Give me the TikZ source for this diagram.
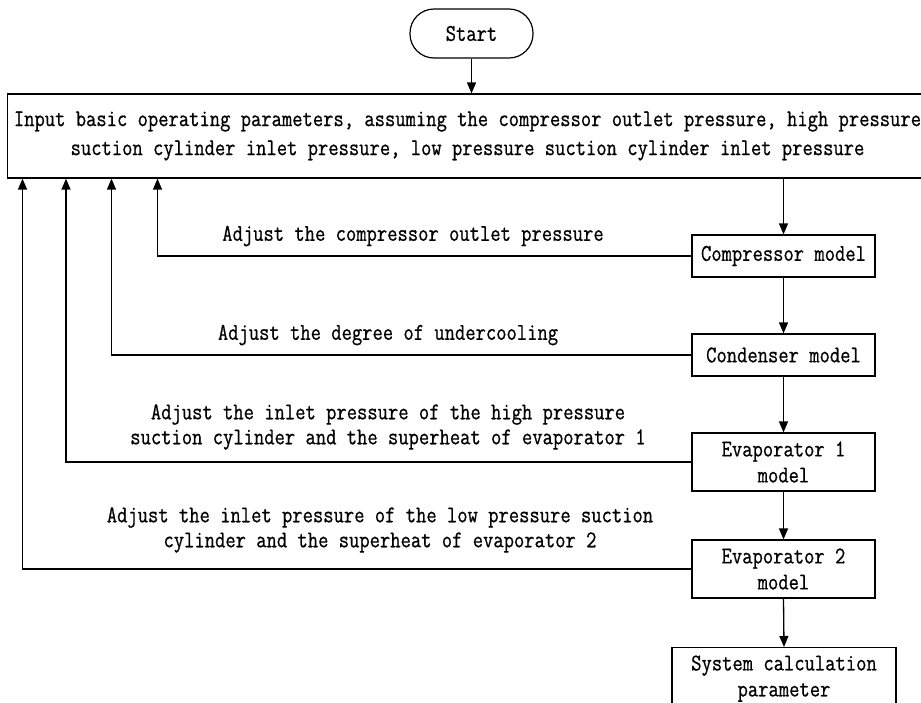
\documentclass[tikz,border=0pt]{standalone}
\usepackage{fontspec}
\setmainfont{Latin Modern Mono}[FakeStretch=0.834,FakeBold=0.7]
\usetikzlibrary{arrows.meta,calc}
\begin{document}
\begin{tikzpicture}[x=1pt,y=-1pt,
  box/.style={draw, line width=1.2pt, inner sep=0pt, align=center,
    font=\fontsize{24}{26}\selectfont},
  lbl/.style={inner sep=0pt, align=center, font=\fontsize{24}{25}\selectfont},
  arr/.style={line width=1.3pt, -{Triangle[length=11pt,width=9pt]}}]
\useasboundingbox (0,0) rectangle (921,702);
\clip (0,0) rectangle (921,702);
\fill[white] (0,0) rectangle (921,702);
\node[box, rounded corners=24pt, minimum width=123pt, minimum height=49pt] (start) at (471.5,33.5) {Start};
\node[box, minimum width=920pt, minimum height=84pt, font=\fontsize{24}{29}\selectfont] (input) at (467.5,136)
 {Input basic operating parameters, assuming the compressor outlet pressure, high pressure\\suction cylinder inlet pressure, low pressure suction cylinder inlet pressure};
\node[box, minimum width=183pt, minimum height=42pt] (comp) at (783.5,256) {Compressor model};
\node[box, minimum width=183pt, minimum height=42pt] (cond) at (783.5,355) {Condenser model};
\node[box, minimum width=183pt, minimum height=58pt] (ev1) at (783.5,462) {Evaporator 1\\model};
\node[box, minimum width=183pt, minimum height=58pt] (ev2) at (783.5,569) {Evaporator 2\\model};
\node[box, minimum width=224pt, minimum height=62pt, anchor=north] (sys) at (784,647) {System calculation\\parameter};
\coordinate (xb) at (783.5,0);
\coordinate (c1) at (157.5,0);
\coordinate (c2) at (111.5,0);
\coordinate (c3) at (66,0);
\coordinate (c4) at (22.5,0);
\draw[arr] (start.south) -- (start.south |- input.north);
\draw[arr] (xb |- input.south) -- (comp.north);
\draw[arr] (comp.south) -- (cond.north);
\draw[arr] (cond.south) -- (ev1.north);
\draw[arr] (ev1.south) -- (ev2.north);
\draw[arr] (ev2.south) -- (sys.north);
\draw[arr] (comp.west) -| (c1 |- input.south);
\draw[arr] (cond.west) -| (c2 |- input.south);
\draw[arr] (ev1.west) -| (c3 |- input.south);
\draw[arr] (ev2.west) -| (c4 |- input.south);
\node[lbl] (l1) at (413,236) {Adjust the compressor outlet pressure};
\node[lbl] (l2) at (388,335) {Adjust the degree of undercooling};
\node[lbl] (l3) at (388,427) {Adjust the inlet pressure of the high pressure\\suction cylinder and the superheat of evaporator 1};
\node[lbl] (l4) at (380,530) {Adjust the inlet pressure of the low pressure suction\\cylinder and the superheat of evaporator 2};
\end{tikzpicture}
\end{document}
